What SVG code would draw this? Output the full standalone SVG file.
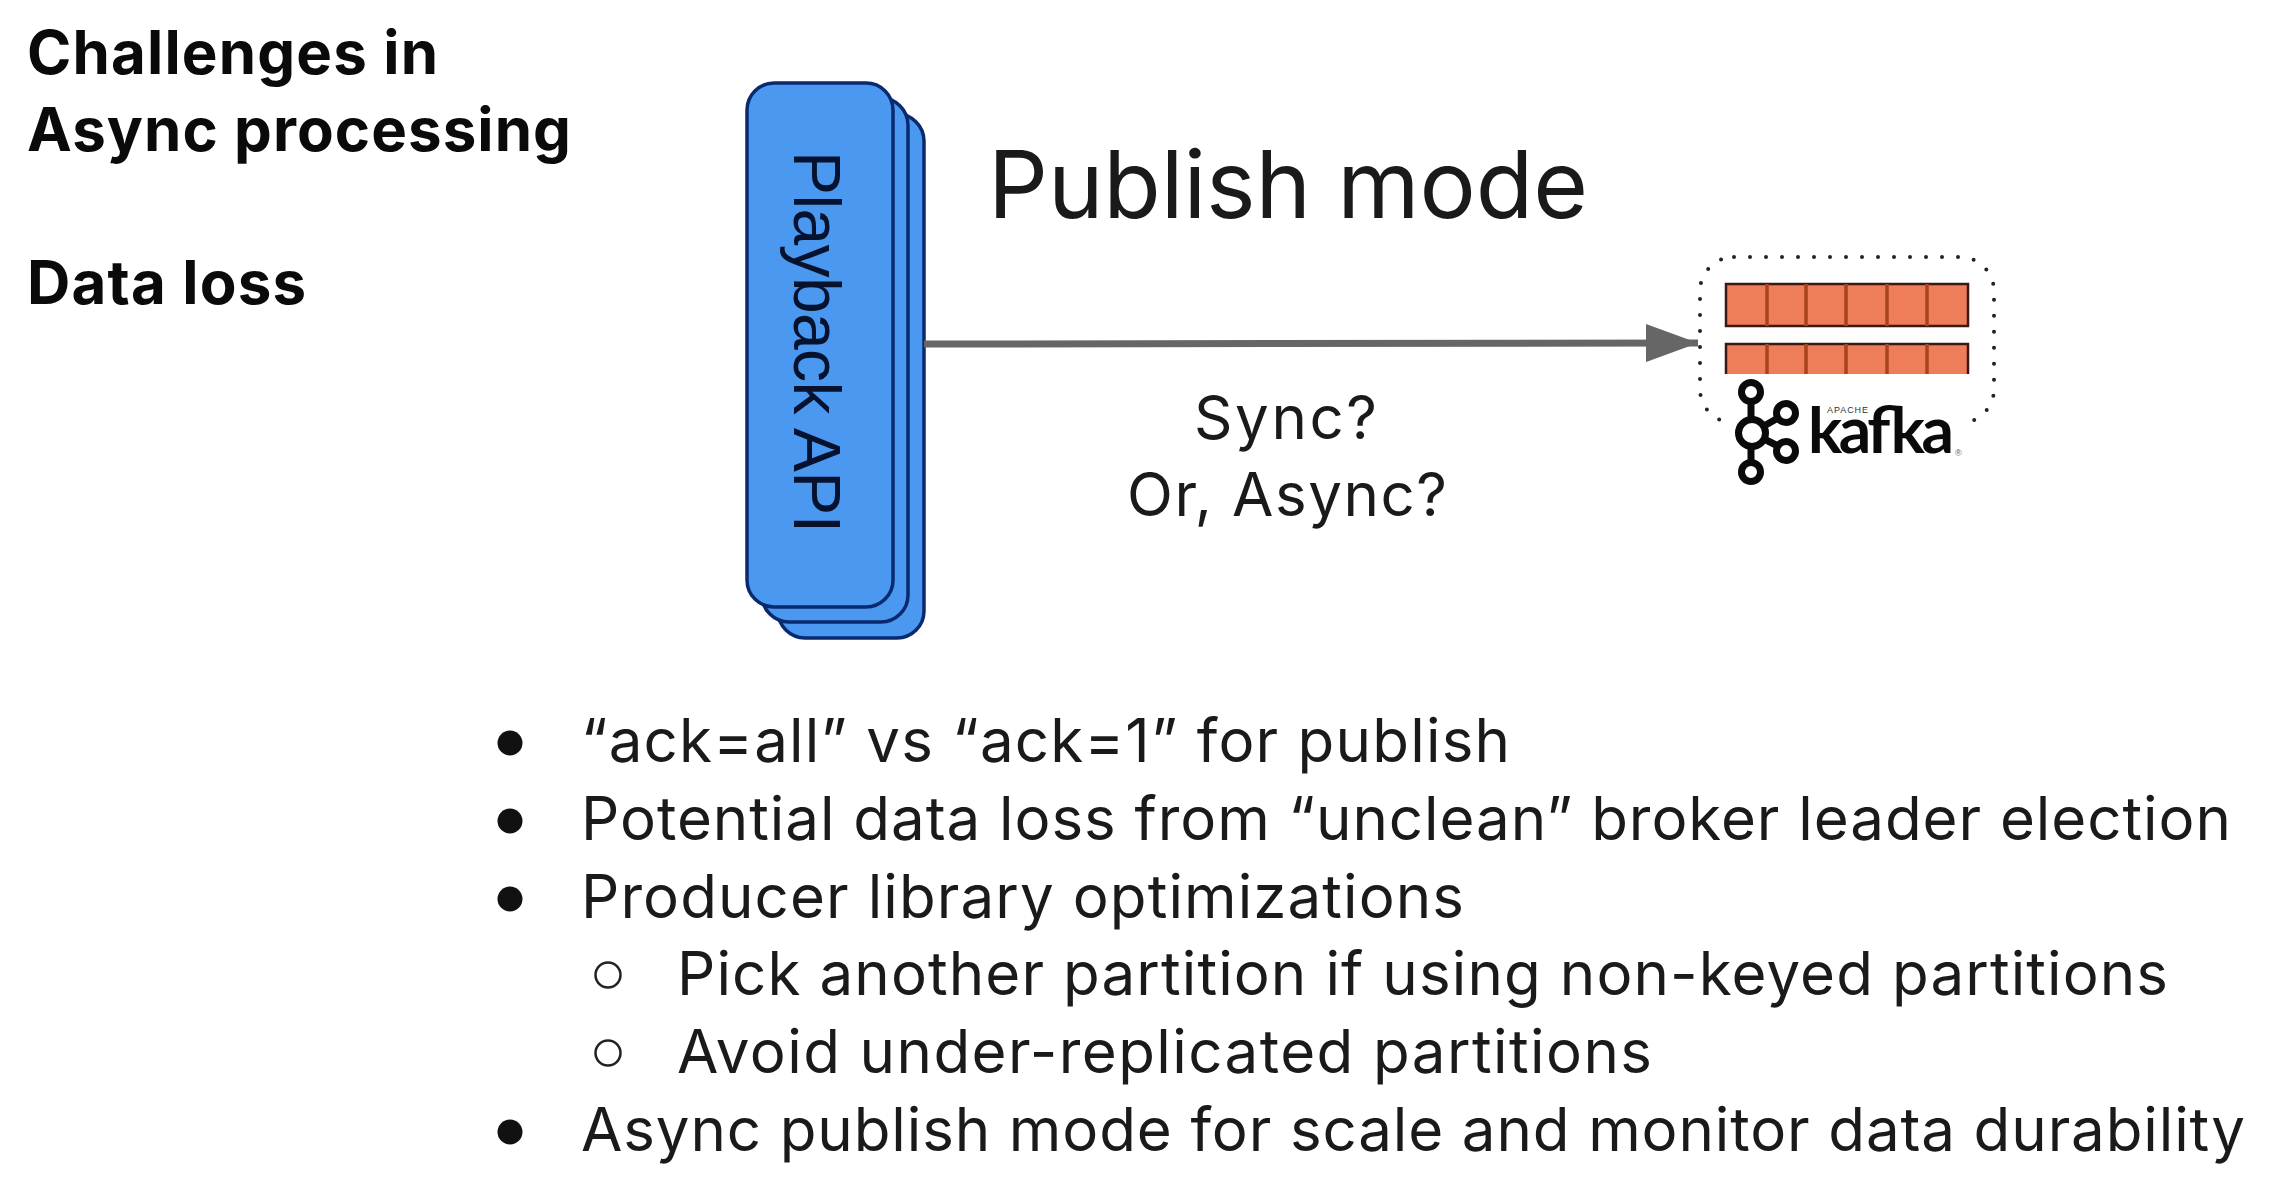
<svg xmlns="http://www.w3.org/2000/svg" width="2282" height="1196" viewBox="0 0 2282 1196">
<style>
.title{font-family:"Inter","Liberation Sans",sans-serif;font-weight:700;font-size:60px;fill:#0a0a0a}
.body{font-family:"Inter","Liberation Sans",sans-serif;font-size:60px;fill:#1a1a1a}
.stack{fill:#4a98f0;stroke:#0a2a70;stroke-width:3.5}
.bar{fill:#ee7d5a}
.edge{fill:none;stroke:#3a1a10;stroke-width:2.5}
.div{stroke:#a8431f;stroke-width:3.5}
.logo{fill:none;stroke:#0a0a0a;stroke-width:7}
</style>
<defs>
<marker id="head" markerUnits="userSpaceOnUse" markerWidth="52" markerHeight="38" refX="52" refY="19" orient="auto"><path d="M0 0L52 19L0 38z" fill="#666"/></marker>
</defs>
<rect width="2282" height="1196" fill="#fff"/>
<g id="title">
<text class="title" x="27" y="74" textLength="411" lengthAdjust="spacing">Challenges in</text>
<text class="title" x="27" y="151" textLength="544" lengthAdjust="spacing">Async processing</text>
<text class="title" x="27" y="304" textLength="279" lengthAdjust="spacing">Data loss</text>
</g>
<g id="playback-api">
<rect class="stack" x="778" y="114" width="146" height="524" rx="27"/>
<rect class="stack" x="762" y="98" width="146" height="524" rx="27"/>
<rect class="stack" x="747" y="83" width="146" height="524" rx="27"/>
<text transform="translate(794 151) rotate(90)" font-family="Liberation Sans, Arial, sans-serif" font-size="66" fill="#06122e" textLength="382" lengthAdjust="spacing">Playback API</text>
</g>
<g id="connectors">
<line x1="924" y1="344" x2="1698" y2="343" stroke="#666" stroke-width="7" marker-end="url(#head)"/>
</g>
<g id="publish-mode"><text class="body" style="font-size:94px" x="988" y="218" textLength="600" lengthAdjust="spacing">Publish mode</text></g>
<g id="sync-label">
<text class="body" x="1194" y="439" textLength="183" lengthAdjust="spacing">Sync?</text>
<text class="body" x="1127" y="516" textLength="320" lengthAdjust="spacing">Or, Async?</text>
</g>
<g id="kafka">
<rect x="1700" y="257" width="294" height="166" rx="34" fill="none" stroke="#222" stroke-width="4" stroke-linecap="round" stroke-dasharray="0 16"/>
<rect x="1722" y="405" width="245" height="30" fill="#fff"/>
<rect class="bar" x="1726" y="284" width="242" height="42"/>
<rect class="bar" x="1726" y="344" width="242" height="30"/>
<path class="edge" d="M1726 284H1968V326H1726ZM1726 374V344H1968V374"/>
<path class="div" d="M1767 284V326M1806 284V326M1846 284V326M1887 284V326M1927 284V326M1767 344V374M1806 344V374M1846 344V374M1887 344V374M1927 344V374"/>
<circle class="logo" cx="1751" cy="392" r="9.5"/>
<circle class="logo" cx="1786" cy="413" r="9.5"/>
<circle class="logo" cx="1752" cy="433" r="13.5"/>
<circle class="logo" cx="1786" cy="451" r="9.5"/>
<circle class="logo" cx="1751" cy="472" r="9.5"/>
<path class="logo" d="M1751 401V420M1751 446V463M1764 426L1778 418M1764 439L1778 446"/>
<text x="1808" y="453" font-family="Lato, Liberation Sans, sans-serif" font-size="64" font-weight="700" fill="#0a0a0a" textLength="146" lengthAdjust="spacing">kafka</text>
<text x="1827" y="413" font-family="Liberation Sans, sans-serif" font-size="9" fill="#333" textLength="41" lengthAdjust="spacing">APACHE</text>
<text x="1955" y="456" font-family="Liberation Sans, sans-serif" font-size="9" fill="#666">®</text>
</g>
<g id="bullets">
<circle cx="510" cy="743" r="12.5" fill="#111"/>
<circle cx="510" cy="821" r="12.5" fill="#111"/>
<circle cx="510" cy="899" r="12.5" fill="#111"/>
<circle cx="608" cy="975" r="12.5" fill="none" stroke="#222" stroke-width="2.5"/>
<circle cx="608" cy="1053" r="12.5" fill="none" stroke="#222" stroke-width="2.5"/>
<circle cx="510" cy="1132" r="12.5" fill="#111"/>
<text class="body" x="581" y="762" textLength="929" lengthAdjust="spacing">“ack=all” vs “ack=1” for publish</text>
<text class="body" x="581" y="840" textLength="1650" lengthAdjust="spacing">Potential data loss from “unclean” broker leader election</text>
<text class="body" x="581" y="918" textLength="883" lengthAdjust="spacing">Producer library optimizations</text>
<text class="body" x="677" y="995" textLength="1491" lengthAdjust="spacing">Pick another partition if using non-keyed partitions</text>
<text class="body" x="677" y="1073" textLength="975" lengthAdjust="spacing">Avoid under-replicated partitions</text>
<text class="body" x="581" y="1151" textLength="1664" lengthAdjust="spacing">Async publish mode for scale and monitor data durability</text>
</g>
</svg>
